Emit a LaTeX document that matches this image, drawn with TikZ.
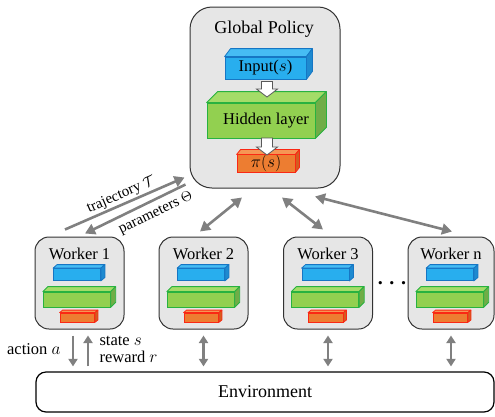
\documentclass[tikz,border=0pt]{standalone}
\usepackage{fontspec}
\setmainfont{Liberation Serif}
\usetikzlibrary{arrows.meta}
\definecolor{bfront}{RGB}{40,174,238}
\definecolor{btop}{RGB}{70,188,244}
\definecolor{bside}{RGB}{30,138,208}
\definecolor{bline}{RGB}{22,118,196}
\definecolor{gfront}{RGB}{146,208,80}
\definecolor{gtop}{RGB}{164,220,104}
\definecolor{gside}{RGB}{112,173,71}
\definecolor{gline}{RGB}{40,178,64}
\definecolor{ofront}{RGB}{237,125,49}
\definecolor{otop}{RGB}{246,150,84}
\definecolor{oside}{RGB}{212,92,32}
\definecolor{oline}{RGB}{250,40,20}
\definecolor{arrgray}{RGB}{128,128,128}
\definecolor{boxgray}{RGB}{230,230,230}
\newcommand\cubefaces[6]{%
  \filldraw[fill=#4,draw=#6,line width=0.8pt,line join=round] (#1.north west) -- ++(#2,-#3) -- ([shift={(#2,-#3)}]#1.north east) -- (#1.north east) -- cycle;
  \filldraw[fill=#5,draw=#6,line width=0.8pt,line join=round] (#1.north east) -- ++(#2,-#3) -- ([shift={(#2,-#3)}]#1.south east) -- (#1.south east) -- cycle;
}
\newcommand\workerparts[2]{%
  \node[cubeb, minimum width=47, minimum height=12] (#1b) at (#2+42,274.5) {};
  \cubefaces{#1b}{4}{3.5}{btop}{bside}{bline}
  \node[cubeg, minimum width=67, minimum height=15] (#1g) at (#2+41.75,299.5) {};
  \cubefaces{#1g}{5}{5}{gtop}{gside}{gline}
  \node[cubeo, minimum width=34.5, minimum height=9] (#1o) at (#2+42.25,317.5) {};
  \cubefaces{#1o}{3}{2.5}{otop}{oside}{oline}
}
% hollow block arrow pointing down: #1 tail coordinate, #2 shaft length, #3 head length
\newcommand\blockarrow[3]{%
  \filldraw[blkarrow] ([shift={(-5.5,0)}]#1) -- ([shift={(-5.5,#2)}]#1) -- ([shift={(-10.5,#2)}]#1)
    -- ([shift={(0,#2+#3)}]#1) -- ([shift={(10.5,#2)}]#1) -- ([shift={(5.5,#2)}]#1) -- ([shift={(5.5,0)}]#1) -- cycle;
}
\begin{document}
\begin{tikzpicture}[x=1pt,y=-1pt,
  panel/.style={draw=black!80, fill=boxgray, line width=1pt},
  worker/.style={panel, rounded corners=14pt, minimum width=89, minimum height=92, inner sep=0},
  cubeb/.style={draw=bline, fill=bfront, line width=0.8pt, inner sep=0},
  cubeg/.style={draw=gline, fill=gfront, line width=0.8pt, inner sep=0},
  cubeo/.style={draw=oline, fill=ofront, line width=0.8pt, inner sep=0},
  big/.style={font=\rmfamily\fontsize{18}{21}\selectfont},
  mid/.style={font=\rmfamily\fontsize{16.5}{19}\selectfont},
  lab/.style={font=\rmfamily\fontsize{15}{18}\selectfont},
  blkarrow/.style={draw=black!65, fill=white, line width=0.8pt, line join=miter},
  garrow/.style={draw=arrgray, line width=2.6pt, -{Triangle[length=10pt,width=11pt]}},
  gdbl/.style={draw=arrgray, line width=2.6pt, {Triangle[length=10pt,width=11pt]}-{Triangle[length=10pt,width=11pt]}},
  edbl/.style={draw=arrgray, line width=2.8pt, {Triangle[length=7.5pt,width=9pt]}-{Triangle[length=7.5pt,width=9pt]}},
  earrow/.style={draw=arrgray, line width=2.8pt, -{Triangle[length=7.5pt,width=9pt]}}
]
\useasboundingbox (0,0) rectangle (495,416);

% Global policy
\node[panel, rounded corners=22pt, minimum width=150, minimum height=181] (gp) at (265,97.5) {};
\node[big] (gpt) at (264,29) {Global Policy};
\node[cubeb, mid, minimum width=81, minimum height=22] (inp) at (265.5,68) {Input($s$)};
\cubefaces{inp}{6}{8}{btop}{bside}{bline}
\node[cubeg, mid, minimum width=108, minimum height=35] (hid) at (261,120.5) {\hspace*{10pt}Hidden layer};
\cubefaces{hid}{11}{11}{gtop}{gside}{gline}
\node[cubeo, mid, minimum width=58, minimum height=17] (pol) at (266,163.5) {$\pi(s)$};
\cubefaces{pol}{4}{5}{otop}{oside}{oline}
\coordinate (a1) at (267,81.5);
\coordinate (a2) at (267,138);
\blockarrow{a1}{7.5}{8}
\blockarrow{a2}{9}{8}

% Workers
\node[worker] (w1) at (79.5,283) {};
\node[worker] (w2) at (203.5,283) {};
\node[worker] (w3) at (328,283) {};
\node[worker, minimum width=86] (wn) at (451,283) {};
\node[mid] (t1) at ([shift={(0,17)}]w1.north) {Worker 1};
\node[mid] (t2) at ([shift={(0,17)}]w2.north) {Worker 2};
\node[mid] (t3) at ([shift={(0,17)}]w3.north) {Worker 3};
\node[mid] (tn) at ([shift={(0,17)}]wn.north) {Worker n};
\workerparts{w1}{35}
\workerparts{w2}{159}
\workerparts{w3}{283.5}
\workerparts{wn}{408}
\node[font=\rmfamily\fontsize{20}{22}\selectfont\bfseries, anchor=base, inner sep=0] (dots) at (392,284) {.\,\,.\,\,.};

% Environment
\node[draw=black, fill=white, line width=1.2pt, rounded corners=10pt, minimum width=458, minimum height=40, big] (env) at (265,392) {Environment};

% Global <-> workers
\draw[garrow] ([shift={(-14.5,-7)}]w1.north) -- node[sloped, above, lab, inner sep=1pt, pos=0.5] {trajectory $\mathcal{T}$} ([shift={(-5,-11)}]gp.south west);
\draw[garrow] ([shift={(-4,-4)}]gp.south west) -- node[sloped, below, lab, inner sep=5pt, pos=0.35] {parameters $\Theta$} ([shift={(5.5,-3)}]w1.north);
\draw[gdbl] ([shift={(-23,9)}]gp.south) -- ([shift={(-3.5,-5)}]w2.north);
\draw[gdbl] ([shift={(17,9)}]gp.south) -- ([shift={(-5,-7)}]w3.north);
\draw[gdbl] ([shift={(50,8)}]gp.south) -- ([shift={(1,-5)}]wn.north);

% Workers <-> environment
\draw[earrow] ([shift={(-6.5,6)}]w1.south) -- ([shift={(-6.5,-5)}]w1.south |- env.north);
\draw[earrow] ([shift={(8.5,-5)}]w1.south |- env.north) -- ([shift={(8.5,6)}]w1.south);
\draw[edbl] ([shift={(0,6)}]w2.south) -- ([shift={(0,-5)}]w2.south |- env.north);
\draw[edbl] ([shift={(0,6)}]w3.south) -- ([shift={(0,-5)}]w3.south |- env.north);
\draw[edbl] ([shift={(0,6)}]wn.south) -- ([shift={(0,-5)}]wn.south |- env.north);
\node[mid, anchor=east] (act) at (64,349) {action $a$};
\node[mid, anchor=west] (st) at (96,341) {state $s$};
\node[mid, anchor=west] (rw) at (96,357) {reward $r$};
\end{tikzpicture}
\end{document}
